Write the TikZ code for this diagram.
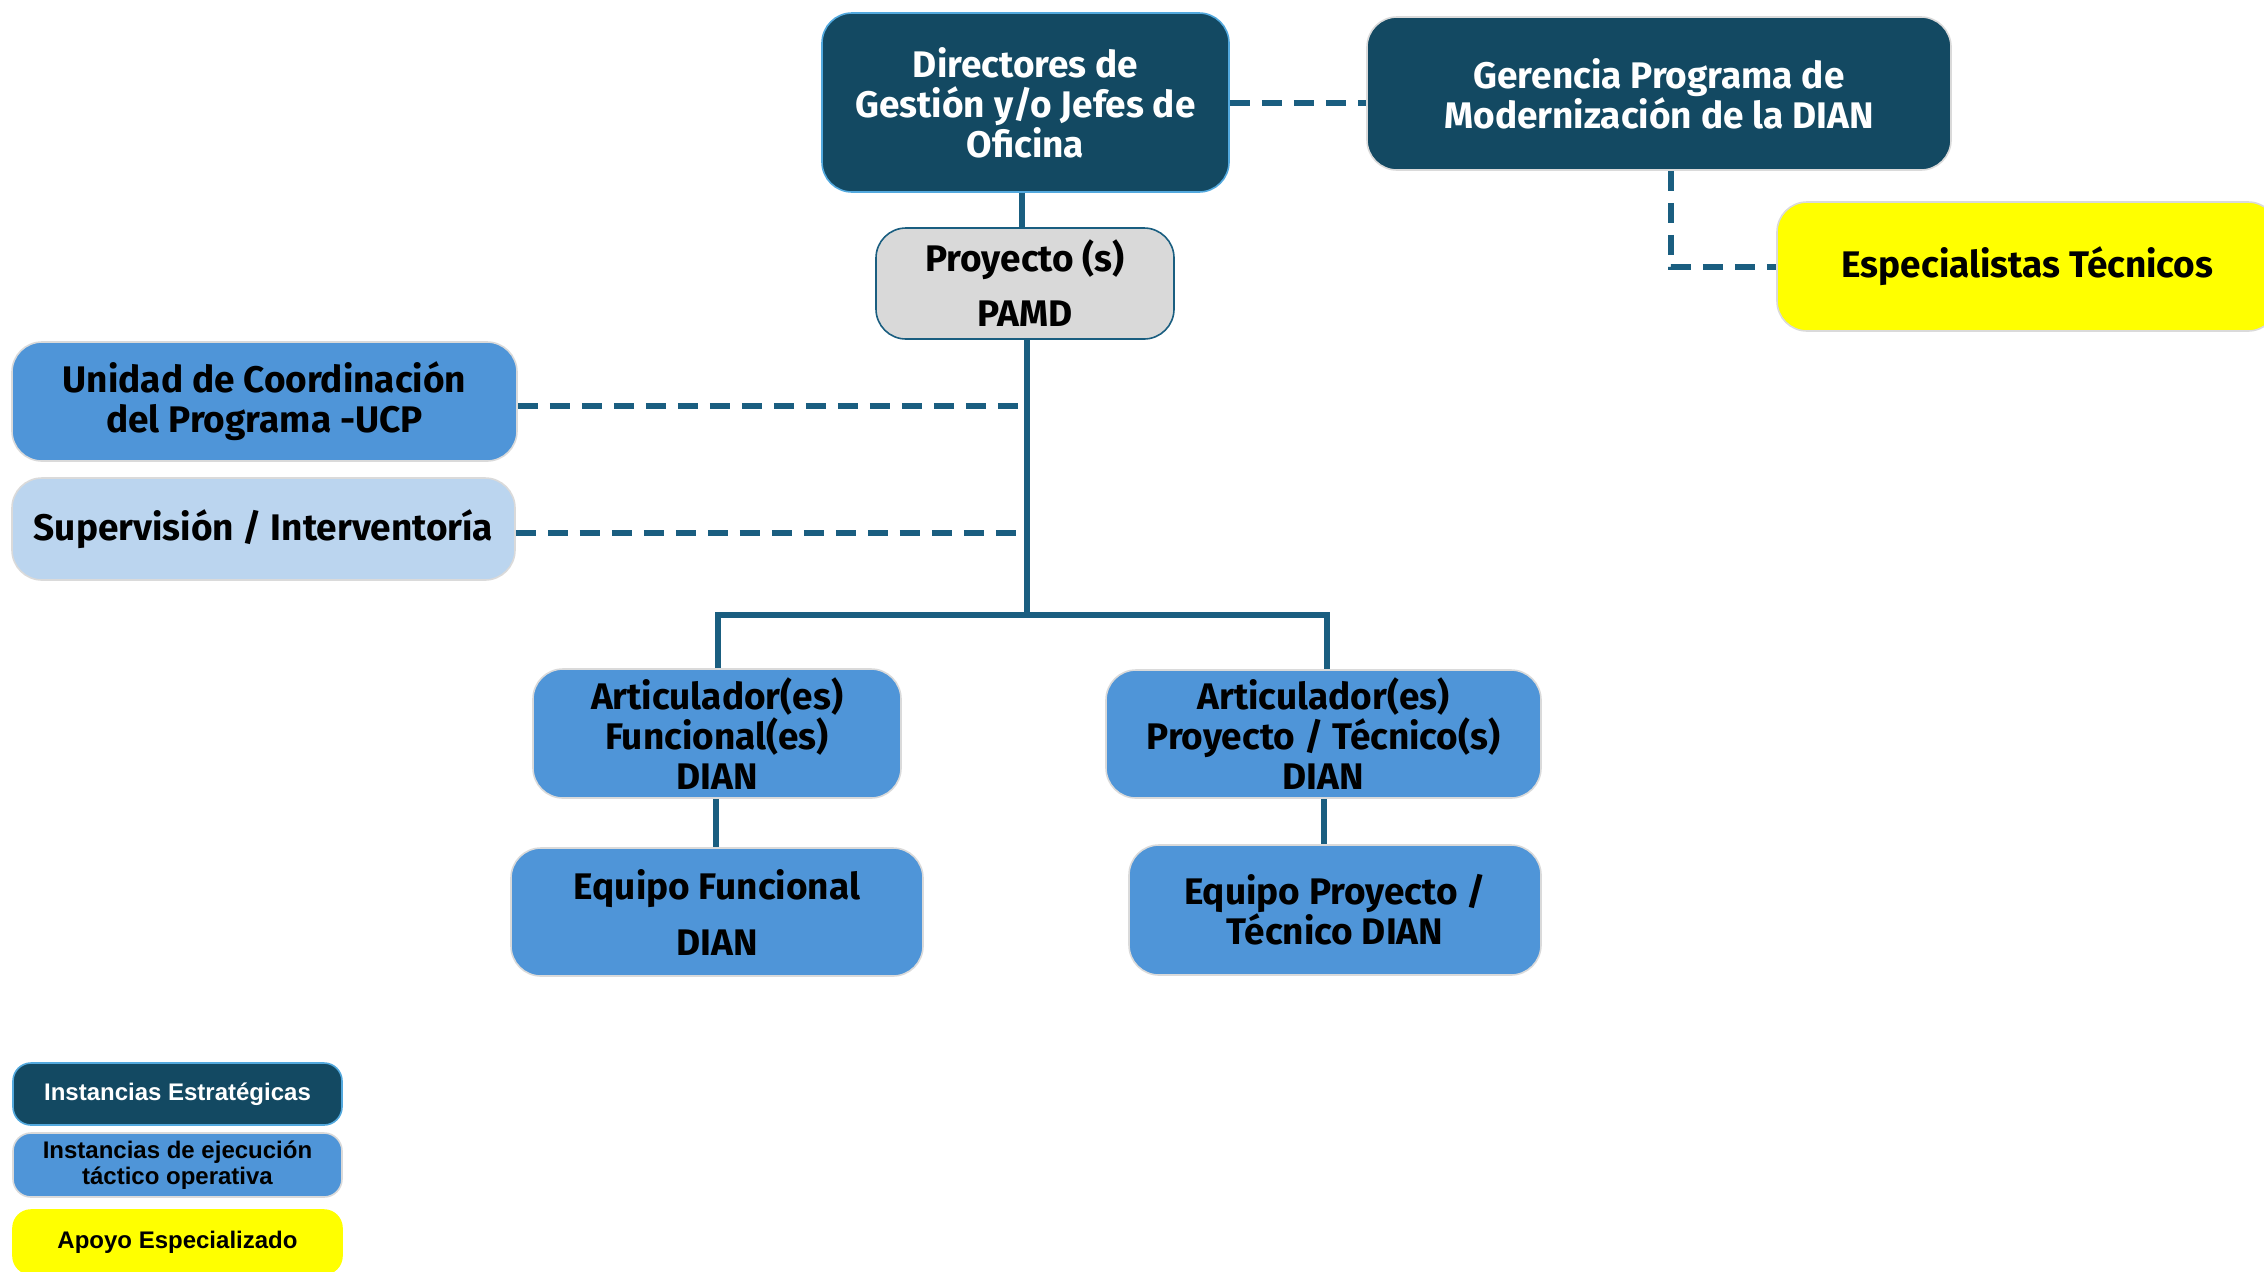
\documentclass[tikz,border=0pt]{standalone}
\usepackage{fontspec}
\setmainfont{Fira Sans}
\newfontfamily\legfont{Liberation Sans}
\definecolor{navy}{RGB}{19,73,98}
\definecolor{navyedge}{RGB}{83,169,222}
\definecolor{execblue}{RGB}{79,149,216}
\definecolor{supblue}{RGB}{187,213,239}
\definecolor{projgray}{RGB}{217,217,217}
\definecolor{ylw}{RGB}{255,255,0}
\definecolor{edgegray}{RGB}{218,218,218}
\definecolor{conn}{RGB}{26,94,128}
\tikzset{
  base/.style={rounded corners=15pt, align=center, inner sep=2pt, line width=0.8pt,
    font=\bfseries\fontsize{18.5}{20}\selectfont},
  strat/.style={base, fill=navy, draw=edgegray, text=white},
  exec/.style={base, fill=execblue, draw=edgegray, text=black},
  supbox/.style={base, fill=supblue, draw=edgegray, text=black},
  projbox/.style={base, fill=projgray, draw=conn, text=black},
  ylwbox/.style={base, fill=ylw, draw=edgegray, text=black},
  legbox/.style={rounded corners=9pt, align=center, inner sep=1pt, line width=0.8pt,
    font=\legfont\bfseries\fontsize{12}{13}\selectfont, minimum width=164.5pt},
  solidconn/.style={draw=conn, line width=2.6pt},
  dashconn/.style={draw=conn, line width=2.8pt, dash pattern=on 10pt off 6pt},
}
\begin{document}
\begin{tikzpicture}[x=0.5pt,y=-0.5pt]
\useasboundingbox (0,0) rectangle (2264,1271);
% connectors first (behind boxes)
\coordinate (jn) at (1027,615);
\coordinate (jl) at (718,615);
\coordinate (jr) at (1327,615);
\coordinate (ju) at (1027,406);
\coordinate (js) at (1027,533);
\coordinate (gk) at (1671,267);
% nodes
\node[strat, draw=navyedge, minimum width=203.5pt, minimum height=89.5pt] (dir) at (1025.5,102.5)
  {Directores de\\Gestión y/o Jefes de\\Oficina};
\node[strat, minimum width=292pt, minimum height=76.5pt] (ger) at (1659,93.5)
  {Gerencia Programa de\\Modernización de la DIAN};
\node[ylwbox, minimum width=250.5pt, minimum height=64.5pt] (esp) at (2027.5,266.5)
  {Especialistas Técnicos};
\node[projbox, minimum width=149pt, minimum height=55.5pt, font=\bfseries\fontsize{18.5}{27.5}\selectfont] (proj) at (1025,283.5)
  {Proyecto (s)\\PAMD};
\node[exec, minimum width=252.5pt, minimum height=59.5pt] (ucp) at (264.5,401.5)
  {Unidad de Coordinación\\del Programa -UCP};
\node[supbox, minimum width=251.5pt, minimum height=51pt] (sup) at (263.5,529)
  {Supervisión / Interventoría};
\node[exec, minimum width=184pt, minimum height=64.5pt] (art1) at (717,733.5)
  {Articulador(es)\\Funcional(es)\\DIAN};
\node[exec, minimum width=217.5pt, minimum height=64pt] (art2) at (1323.5,734)
  {Articulador(es)\\Proyecto / Técnico(s)\\DIAN};
\node[exec, minimum width=206pt, minimum height=64pt, font=\bfseries\fontsize{18.5}{28}\selectfont] (eq1) at (717,912)
  {Equipo Funcional\\DIAN};
\node[exec, minimum width=206pt, minimum height=65pt] (eq2) at (1335,910)
  {Equipo Proyecto /\\Técnico DIAN};
% legend
\node[legbox, fill=navy, draw=navyedge, text=white, minimum height=31pt] (leg1) at (177.5,1094)
  {Instancias Estratégicas};
\node[legbox, fill=execblue, draw=edgegray, text=black, minimum height=32pt] (leg2) at (177.5,1165)
  {Instancias de ejecución\\táctico operativa};
\node[legbox, fill=ylw, draw=ylw, text=black, minimum height=32pt] (leg3) at (177.5,1242)
  {Apoyo Especializado};
% connectors
\draw[solidconn] (dir.south -| 1022,0) -- (proj.north -| 1022,0);
\draw[solidconn] (proj.south -| jn) -- (jn);
\draw[solidconn] (art1.north -| jl) -- (jl) -- (jr) -- (art2.north -| jr);
\draw[solidconn] (art1.south -| 716,0) -- (eq1.north -| 716,0);
\draw[solidconn] (art2.south -| 1324,0) -- (eq2.north -| 1324,0);
\draw[dashconn] (ucp.east |- ju) -- (ju);
\draw[dashconn] (sup.east |- js) -- (js);
\draw[dashconn] (dir.east |- 0,103) -- (ger.west |- 0,103);
\draw[dashconn] (ger.south -| gk) -- (gk) -- (esp.west |- gk);
\end{tikzpicture}
\end{document}
